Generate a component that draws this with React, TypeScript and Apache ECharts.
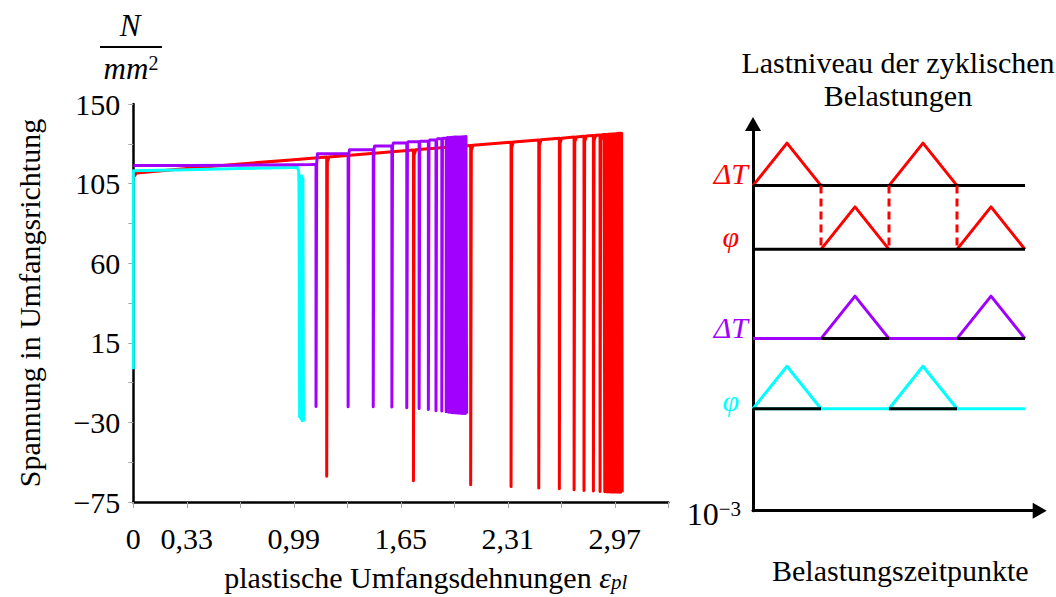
import React, { useEffect, useRef } from 'react';
import * as echarts from 'echarts';

const FONT = "'Liberation Serif', 'Times New Roman', serif";
const RED = '#ff0000';
const PURPLE = '#a100ff';
const CYAN = '#00ffff';

// ---------- left chart: axis labels ----------
const xTickValues = [0, 0.33, 0.99, 1.65, 2.31, 2.97];
const xTickLabels = ['0', '0,33', '0,99', '1,65', '2,31', '2,97'];
const yTickValues = [-75, -30, 15, 60, 105, 150];
const yTickLabels = ['\u221275', '\u221230', '15', '60', '105', '150'];

// ---------- cyan curve (φ) ----------
const cyanStrain = [0, 0, 0.33, 0.66, 0.99, 1.012, 1.02, 1.022, 1.026, 1.03, 1.034, 1.038, 1.042, 1.046, 1.05];
const cyanStress = [0, 112.3, 112.9, 113.5, 114.1, 114.2, 112.0, 104.0, -27.0, 109.0, -28.0, 109.5, -29.0, 108.0, -29.5];

// ---------- purple curve (ΔT) ----------
const purpleStartStrain = [0, 0.33, 0.66, 0.99, 1.1];
const purpleStartStress = [115.3, 115.3, 115.4, 115.6, 115.8];
const purpleSpikeStrain = [1.127, 1.325, 1.48, 1.595, 1.687, 1.763, 1.82, 1.867, 1.903, 1.93];
const purpleSpikeMin = [-21.0, -21.1, -21.2, -21.3, -21.7, -22.1, -22.7, -23.4, -23.6, -24.0];
const purpleLevel = [116.0, 121.9, 124.1, 126.3, 127.9, 128.6, 129.0, 129.7, 130.3, 130.7, 131.0];
const purpleBlockStrain = [1.941, 1.949, 1.957, 1.965, 1.973, 1.981, 1.989, 1.997, 2.005, 2.013, 2.021, 2.029, 2.037, 2.045, 2.052];
const purpleBlockMax = [131.0, 131.1, 131.1, 131.2, 131.2, 131.3, 131.3, 131.3, 131.4, 131.4, 131.4, 131.5, 131.5, 131.5, 131.6];
const purpleBlockMin = [-24.2, -24.3, -24.4, -24.5, -24.5, -24.6, -24.7, -24.7, -24.8, -24.8, -24.9, -24.9, -25.0, -25.0, -25.0];

// ---------- red curve (ΔT + φ) ----------
const redStartStrain = [0, 0.02, 0.33, 0.66, 0.99];
const redStartStress = [108.5, 111.0, 113.6, 116.1, 118.5];
const redSpikeStrain = [1.193, 1.728, 2.081, 2.33, 2.501, 2.628, 2.719, 2.78, 2.838, 2.879];
const redSpikeMax = [120.0, 124.0, 126.6, 128.4, 129.7, 130.6, 131.3, 131.8, 132.2, 132.5];
const redSpikeMin = [-60.4, -63.0, -65.3, -66.2, -67.1, -67.5, -68.1, -68.5, -68.8, -69.0];
const redBlockStrain = [2.904, 2.913, 2.922, 2.931, 2.94, 2.949, 2.958, 2.967, 2.976, 2.985, 2.994, 3.003, 3.012];
const redBlockMax = [132.7, 132.8, 132.8, 132.9, 133.0, 133.0, 133.1, 133.2, 133.2, 133.3, 133.4, 133.4, 133.5];
const redBlockMin = [-69.2, -69.2, -69.3, -69.3, -69.3, -69.4, -69.4, -69.4, -69.4, -69.5, -69.5, -69.5, -69.5];

// ---------- right schematic ----------
const rowLevel = [7.65, 6.15, 4.05, 2.4]; // ΔT red, φ red, ΔT purple, φ cyan
const redDTPeaks = [0.5, 2.5];
const redPhiPeaks = [1.5, 3.5];
const purpleDTPeaks = [1.5, 3.5];
const cyanPhiPeaks = [0.5, 2.5];
const dashedAt = [1, 2, 3];
const timeEnd = 4;

const UNLOAD_DX = 0.004;
const FS = 30;

function zip(xs: number[], ys: number[]) {
  return xs.map((x, i) => [x, ys[i]]);
}

function purplePath() {
  const pts = zip(purpleStartStrain, purpleStartStress);
  purpleSpikeStrain.forEach((x, i) => {
    const before = purpleLevel[i];
    const after = purpleLevel[i + 1];
    pts.push([x, before], [x, purpleSpikeMin[i]], [x + UNLOAD_DX, purpleSpikeMin[i]], [x + UNLOAD_DX, before], [x + 0.009, after]);
  });
  purpleBlockStrain.forEach((x, i) => {
    pts.push([x, purpleBlockMax[i]], [x + UNLOAD_DX, purpleBlockMin[i]]);
  });
  return pts;
}

function redPath() {
  const pts = zip(redStartStrain, redStartStress);
  redSpikeStrain.forEach((x, i) => {
    const top = redSpikeMax[i];
    pts.push([x, top], [x, redSpikeMin[i]], [x + UNLOAD_DX, redSpikeMin[i]], [x + UNLOAD_DX, top - 3], [x + 0.014, top + 0.1]);
  });
  redBlockStrain.forEach((x, i) => {
    pts.push([x, redBlockMax[i]], [x + UNLOAD_DX, redBlockMin[i]]);
  });
  return pts;
}

function seg(data: number[][], color: string, width = 3, type: any = 'solid') {
  return {
    type: 'line',
    xAxisIndex: 1,
    yAxisIndex: 1,
    data,
    symbol: 'none',
    showSymbol: false,
    silent: true,
    lineStyle: { color, width, type, join: 'round' },
  };
}

function tri(center: number, level: number, color: string) {
  return seg([[center - 0.5, level], [center, level + 1], [center + 0.5, level]], color);
}

function buildOption() {
  const curve = (data: number[][], color: string) => ({
    type: 'line',
    xAxisIndex: 0,
    yAxisIndex: 0,
    data,
    symbol: 'none',
    showSymbol: false,
    silent: true,
    lineStyle: { color, width: 3, join: 'round' },
  });

  const schem: any[] = [];
  redDTPeaks.forEach((c) => schem.push(tri(c, rowLevel[0], RED)));
  schem.push(seg([[0, rowLevel[0]], [timeEnd, rowLevel[0]]], '#000'));
  redPhiPeaks.forEach((c) => schem.push(tri(c, rowLevel[1], RED)));
  schem.push(seg([[0, rowLevel[1]], [timeEnd, rowLevel[1]]], '#000'));
  dashedAt.forEach((x) => schem.push(seg([[x, rowLevel[0]], [x, rowLevel[1]]], RED, 3, [8, 5])));
  schem.push(seg([[0, rowLevel[2]], [timeEnd, rowLevel[2]]], PURPLE));
  purpleDTPeaks.forEach((c) => {
    schem.push(tri(c, rowLevel[2], PURPLE));
    schem.push(seg([[c - 0.5, rowLevel[2]], [c + 0.5, rowLevel[2]]], '#000'));
  });
  schem.push(seg([[0, rowLevel[3]], [timeEnd, rowLevel[3]]], CYAN));
  cyanPhiPeaks.forEach((c) => {
    schem.push(tri(c, rowLevel[3], CYAN));
    schem.push(seg([[c - 0.5, rowLevel[3]], [c + 0.5, rowLevel[3]]], '#000'));
  });

  const label = (text: string, x: number, y: number, color: string, size = 30) => ({
    type: 'text',
    x,
    y,
    silent: true,
    style: {
      text,
      fill: color,
      fontFamily: FONT,
      fontSize: size,
      fontStyle: 'italic',
      align: 'right',
      verticalAlign: 'middle',
    },
  });

  return {
    animation: false,
    backgroundColor: '#fff',
    title: {
      text: 'Lastniveau der zyklischen\nBelastungen',
      left: 898,
      top: 46,
      padding: 0,
      textAlign: 'center',
      textStyle: { fontFamily: FONT, fontSize: FS, fontWeight: 'normal', color: '#000', lineHeight: 33 },
    },
    grid: [
      { left: 133.3, top: 104, width: 535, height: 400 },
      { left: 753, top: 124, width: 286.7, height: 386.7 },
    ],
    xAxis: [
      {
        type: 'value',
        gridIndex: 0,
        min: 0,
        max: 3.3,
        interval: 0.33,
        name: 'plastische Umfangsdehnungen {e|\u03b5}{s|pl}',
        nameLocation: 'middle',
        nameGap: 60,
        nameTextStyle: {
          fontFamily: FONT,
          fontSize: FS,
          color: '#000',
          padding: [0, 0, 0, 50],
          rich: {
            e: { fontFamily: FONT, fontSize: FS, fontStyle: 'italic', color: '#000' },
            s: { fontFamily: FONT, fontSize: 21, fontStyle: 'italic', color: '#000', verticalAlign: 'bottom' },
          },
        },
        axisLine: { onZero: false, lineStyle: { color: '#000', width: 2.5 } },
        axisTick: { show: true, length: 6, lineStyle: { color: '#a6a6a6', width: 1 } },
        axisLabel: {
          interval: 0,
          hideOverlap: false,
          margin: 21,
          fontFamily: FONT,
          fontSize: FS,
          color: '#000',
          formatter: (v: number) => {
            const i = xTickValues.findIndex((t) => Math.abs(t - v) < 1e-6);
            return i >= 0 ? xTickLabels[i] : '';
          },
        },
        splitLine: { show: false },
      },
      {
        type: 'value',
        gridIndex: 1,
        min: 0,
        max: 4.216,
        name: 'Belastungszeitpunkte',
        nameLocation: 'middle',
        nameGap: 45,
        nameTextStyle: { fontFamily: FONT, fontSize: FS, color: '#000', padding: [0, 0, 0, 8] },
        axisLine: {
          lineStyle: { color: '#000', width: 3 },
          symbol: ['none', 'triangle'],
          symbolSize: [16, 14],
        },
        axisTick: { show: false },
        axisLabel: { show: false },
        splitLine: { show: false },
      },
    ],
    yAxis: [
      {
        type: 'value',
        gridIndex: 0,
        min: -75,
        max: 150,
        interval: 22.5,
        name: 'Spannung in Umfangsrichtung',
        nameLocation: 'middle',
        nameRotate: 90,
        nameGap: 89,
        nameTextStyle: { fontFamily: FONT, fontSize: FS, color: '#000', padding: [0, 0, 0, 0] },
        axisLine: { onZero: false, lineStyle: { color: '#000', width: 2.5 } },
        axisTick: { show: true, length: 5, lineStyle: { color: '#a6a6a6', width: 1 } },
        axisLabel: {
          interval: 0,
          hideOverlap: false,
          margin: 13,
          fontFamily: FONT,
          fontSize: FS,
          color: '#000',
          formatter: (v: number) => {
            const i = yTickValues.findIndex((t) => Math.abs(t - v) < 1e-6);
            return i >= 0 ? yTickLabels[i] : '';
          },
        },
        splitLine: { show: false },
      },
      {
        type: 'value',
        gridIndex: 1,
        min: 0,
        max: 9.1,
        axisLine: {
          lineStyle: { color: '#000', width: 3 },
          symbol: ['none', 'triangle'],
          symbolSize: [16, 14],
        },
        axisTick: { show: false },
        axisLabel: { show: false },
        splitLine: { show: false },
      },
    ],
    graphic: [
      {
        type: 'text',
        x: 130,
        y: 25,
        silent: true,
        style: { text: 'N', fill: '#000', fontFamily: FONT, fontSize: 31, fontStyle: 'italic', align: 'center', verticalAlign: 'middle' },
      },
      { type: 'line', silent: true, shape: { x1: 100, y1: 47, x2: 162, y2: 47 }, style: { stroke: '#000', lineWidth: 2 } },
      {
        type: 'text',
        x: 131,
        y: 68,
        silent: true,
        style: {
          text: 'mm{s|2}',
          fill: '#000',
          fontFamily: FONT,
          fontSize: 31,
          fontStyle: 'italic',
          align: 'center',
          verticalAlign: 'middle',
          rich: { s: { fontFamily: FONT, fontSize: 20, fill: '#000', verticalAlign: 'top' } },
        },
      },
      label('\u0394T', 748, 173, RED),
      label('\u03c6', 739, 236, RED),
      label('\u0394T', 748, 327, PURPLE),
      label('\u03c6', 739, 400, CYAN),
      {
        type: 'text',
        x: 741,
        y: 514,
        silent: true,
        style: {
          text: '10{s|\u22123}',
          fill: '#000',
          fontFamily: FONT,
          fontSize: 32,
          align: 'right',
          verticalAlign: 'middle',
          rich: { s: { fontFamily: FONT, fontSize: 21, fill: '#000', verticalAlign: 'top' } },
        },
      },
    ],
    series: [curve(redPath(), RED), curve(zip(cyanStrain, cyanStress), CYAN), curve(purplePath(), PURPLE), ...schem],
  };
}

export default function App() {
  const ref = useRef<HTMLDivElement>(null);
  useEffect(() => {
    const chart = echarts.init(ref.current as HTMLDivElement, null, { renderer: 'svg' });
    chart.setOption(buildOption() as any);
    return () => chart.dispose();
  }, []);
  return <div ref={ref} style={{ position: 'fixed', left: 0, top: 0, width: 1056, height: 597 }} />;
}
